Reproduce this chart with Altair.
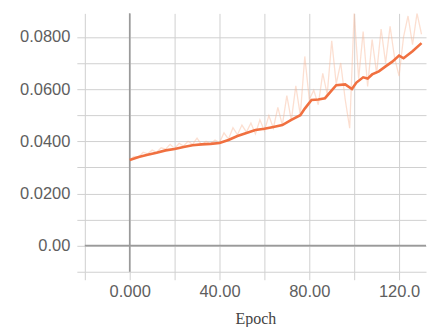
import altair as alt
import pandas as pd

# raw (unsmoothed) values, every 2 epochs
raw_epoch = list(range(0, 132, 2))
raw_value = [
    0.0330, 0.0342, 0.0340, 0.0358, 0.0352, 0.0366, 0.0358, 0.0375, 0.0370, 0.0388,
    0.0372, 0.0392, 0.0382, 0.0400, 0.0388, 0.0412, 0.0386, 0.0400, 0.0390, 0.0405,
    0.0395, 0.0432, 0.0408, 0.0452, 0.0425, 0.0462, 0.0435, 0.0470, 0.0428, 0.0482,
    0.0440, 0.0498, 0.0450, 0.0530, 0.0462, 0.0575, 0.0480, 0.0612, 0.0500, 0.0725,
    0.0560, 0.0595, 0.0540, 0.0660, 0.0580, 0.0785, 0.0620, 0.0700, 0.0560, 0.0450,
    0.0890, 0.0640, 0.0820, 0.0610, 0.0790, 0.0660, 0.0830, 0.0700, 0.0840, 0.0720,
    0.0650, 0.0800, 0.0880, 0.0770, 0.0890, 0.0810,
]

# smoothed curve
smooth_epoch = [0, 4, 8, 12, 16, 20, 24, 28, 32, 36, 40, 44, 48, 52, 56, 60, 64, 68,
                72, 76, 78, 81, 84, 87, 90, 92, 96, 99, 101, 104, 106, 108, 111, 114,
                117, 120, 122, 126, 130]
smooth_value = [0.0328, 0.0340, 0.0348, 0.0356, 0.0365, 0.0370, 0.0378, 0.0385, 0.0388,
                0.0390, 0.0393, 0.0405, 0.0420, 0.0432, 0.0443, 0.0448, 0.0455, 0.0462,
                0.0482, 0.0500, 0.0525, 0.0558, 0.0560, 0.0565, 0.0595, 0.0615, 0.0618,
                0.0600, 0.0625, 0.0645, 0.0640, 0.0656, 0.0668, 0.0687, 0.0705, 0.0728,
                0.0718, 0.0745, 0.0776]

x_ticks = [-20, 0, 20, 40, 60, 80, 100, 120]
x_labels = ["", "0.000", "", "40.00", "", "80.00", "", "120.0"]
y_ticks = [-0.01, 0.0, 0.01, 0.02, 0.03, 0.04, 0.05, 0.06, 0.07, 0.08]
y_labels = ["", "0.00", "", "0.0200", "", "0.0400", "", "0.0600", "", "0.0800"]


def label_expr(values, labels):
    expr = "''"
    for v, lab in reversed(list(zip(values, labels))):
        if lab:
            expr = f"abs(datum.value - ({v})) < 1e-9 ? '{lab}' : ({expr})"
    return expr


raw_df = pd.DataFrame({"epoch": raw_epoch, "value": raw_value})
smooth_df = pd.DataFrame({"epoch": smooth_epoch, "value": smooth_value})
zero_df = pd.DataFrame({"v": [0.0]})

grid_color = "#d0d0d0"
label_color = "#5e5e5e"

x_scale = alt.Scale(domain=[-20, 132], nice=False, zero=False)
y_scale = alt.Scale(domain=[-0.01, 0.089], nice=False, zero=False)

x_axis = alt.Axis(
    values=x_ticks,
    labelExpr=label_expr(x_ticks, x_labels),
    grid=True, gridColor=grid_color, gridWidth=1,
    domain=False, ticks=True, tickColor=grid_color, tickSize=8,
    labelFont="Liberation Sans", labelFontSize=16.5, labelColor=label_color,
    labelPadding=4, labelOverlap=False,
    title="Epoch", titleFont="Liberation Serif", titleFontSize=16,
    titleFontWeight="normal", titleColor="#444444", titlePadding=10,
)
y_axis = alt.Axis(
    values=y_ticks,
    labelExpr=label_expr(y_ticks, y_labels),
    grid=True, gridColor=grid_color, gridWidth=1,
    domain=False, ticks=True, tickColor=grid_color, tickSize=8,
    labelFont="Liberation Sans", labelFontSize=16.5, labelColor=label_color,
    labelPadding=7, labelOverlap=False, title=None,
)

X = lambda f: alt.X(f, scale=x_scale, axis=x_axis)
Y = lambda f: alt.Y(f, scale=y_scale, axis=y_axis)

raw = alt.Chart(raw_df).mark_line(
    color="#f8b89a", opacity=0.45, strokeWidth=1.3, clip=True
).encode(x=X("epoch:Q"), y=Y("value:Q"))

zero_x = alt.Chart(zero_df).mark_rule(color="#9a9a9a", strokeWidth=1.6).encode(
    x=X("v:Q")
)
zero_y = alt.Chart(zero_df).mark_rule(color="#9a9a9a", strokeWidth=1.6).encode(
    y=Y("v:Q")
)

smooth = alt.Chart(smooth_df).mark_line(
    color="#f07040", strokeWidth=2.6, clip=True
).encode(x=X("epoch:Q"), y=Y("value:Q"))

chart = alt.layer(raw, zero_x, zero_y, smooth).properties(
    width=342, height=259,
    padding={"left": 11, "top": 4, "right": 0, "bottom": 0},
).configure_view(stroke=None)

chart.save("out.html", embed_options={"renderer": "svg", "actions": False})
